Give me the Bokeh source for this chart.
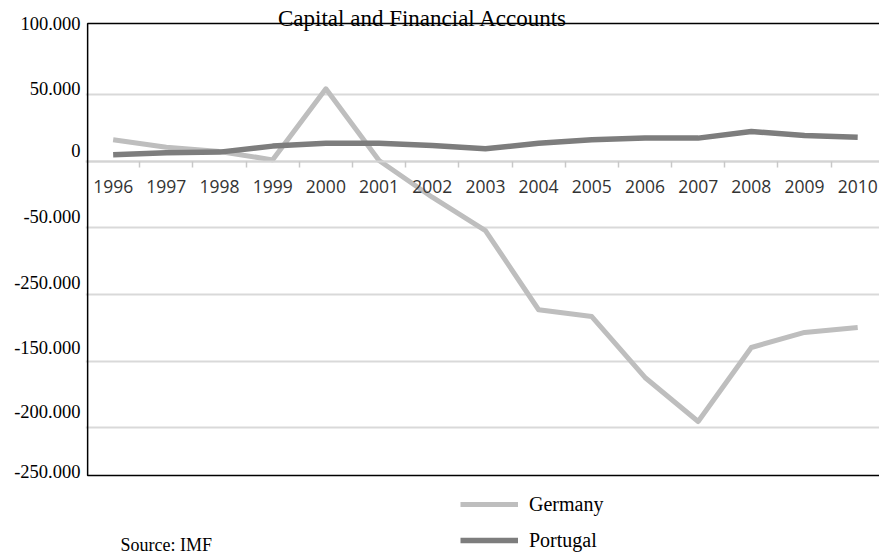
from bokeh.plotting import figure
from bokeh.models import FixedTicker, Range1d, Legend, LegendItem, Label, BoxAnnotation
from bokeh.embed import file_html
from bokeh.resources import INLINE

# ---- data ----
years = list(range(1996, 2011))
germany = [16.0, 10.5, 7.3, 1.0, 54.3, 0.5, -27.0, -52.0, -111.4, -116.5,
           -162.2, -195.2, -139.7, -128.4, -124.7]
portugal = [4.8, 6.3, 6.8, 11.3, 13.5, 13.5, 11.8, 9.3, 13.5, 16.0,
            17.3, 17.3, 22.3, 19.3, 18.0]
y_tick_labels = ["100.000", "50.000", "0", "-50.000", "-250.000",
                 "-150.000", "-200.000", "-250.000"]
y_label_positions = [103.5, 54.5, 8.0, -41.5, -91.0, -139.7, -187.7, -232.7]
grid_values = [-200, -150, -100, -50, 0, 50]

SERIF = "Liberation Serif"

# plotting-area bounds of the original chart box
BOX_LEFT, BOX_TOP, BOX_BOTTOM = 1995.52, 103.3, -235.7

p = figure(width=879, height=555, output_backend="svg", toolbar_location=None,
           x_range=Range1d(1995.48, 2010.41), y_range=Range1d(-295.7, 120.5),
           min_border_left=85, min_border_right=0, min_border_top=0,
           min_border_bottom=0, outline_line_color=None,
           background_fill_color="white", border_fill_color="white")

# grid
p.xgrid.visible = False
p.ygrid.ticker = FixedTicker(ticks=grid_values)
p.ygrid.grid_line_color = "#d9d9d9"
p.ygrid.grid_line_width = 2

# x axis sitting on the zero line
xa = p.xaxis[0]
xa.fixed_location = 0
xa.ticker = FixedTicker(ticks=years, minor_ticks=[y + 0.5 for y in years[:-1]])
xa.axis_line_color = "#d4d4d4"
xa.axis_line_width = 2
xa.major_tick_line_color = None
xa.minor_tick_line_color = "#c8c8c8"
xa.minor_tick_line_width = 1.5
xa.minor_tick_in = 0
xa.minor_tick_out = 6
xa.major_label_text_font = "Open Sans"
xa.major_label_text_font_size = "17.5px"
xa.major_label_text_color = "#333333"
xa.major_label_standoff = 13
xa.major_label_overrides = {y: str(y) for y in years}

# y axis (labels only; the box is drawn separately)
ya = p.yaxis[0]
ya.ticker = FixedTicker(ticks=y_label_positions)
ya.major_label_overrides = {v: t for v, t in zip(y_label_positions, y_tick_labels)}
ya.major_tick_line_color = None
ya.minor_tick_line_color = None
ya.major_tick_out = 0
ya.major_tick_in = 0
ya.axis_line_color = None
ya.major_label_text_font = SERIF
ya.major_label_text_font_size = "18.5px"
ya.major_label_text_color = "black"
ya.major_label_standoff = 5

rg = p.line(years, germany, line_color="#bebebe", line_width=5, line_join="round")
rp = p.line(years, portugal, line_color="#7d7d7d", line_width=5.5, line_join="round")

# chart box (right side runs off the picture as in the original)
p.add_layout(BoxAnnotation(left=BOX_LEFT, right=2012, top=BOX_TOP, bottom=BOX_BOTTOM,
                           fill_alpha=0, line_color="black", line_alpha=1.0,
                           line_width=1.5))

legend = Legend(items=[LegendItem(label="Germany", renderers=[rg]),
                       LegendItem(label="Portugal", renderers=[rp])],
                location=(375, 0), orientation="vertical",
                glyph_width=58, glyph_height=30, label_height=30,
                label_standoff=11, spacing=6, padding=0, margin=0,
                border_line_color=None, background_fill_alpha=0,
                label_text_font=SERIF, label_text_font_size="20px",
                label_text_color="black")
p.add_layout(legend, "center")

p.add_layout(Label(x=2001.82, y=106.8, text="Capital and Financial Accounts",
                   text_align="center", text_baseline="alphabetic",
                   text_font=SERIF, text_font_size="23px", text_color="black"))
p.add_layout(Label(x=1996.14, y=-288.0, text="Source: IMF",
                   text_align="left", text_baseline="alphabetic",
                   text_font=SERIF, text_font_size="18px", text_color="black"))

open("out.html", "w").write(file_html(p, INLINE))
